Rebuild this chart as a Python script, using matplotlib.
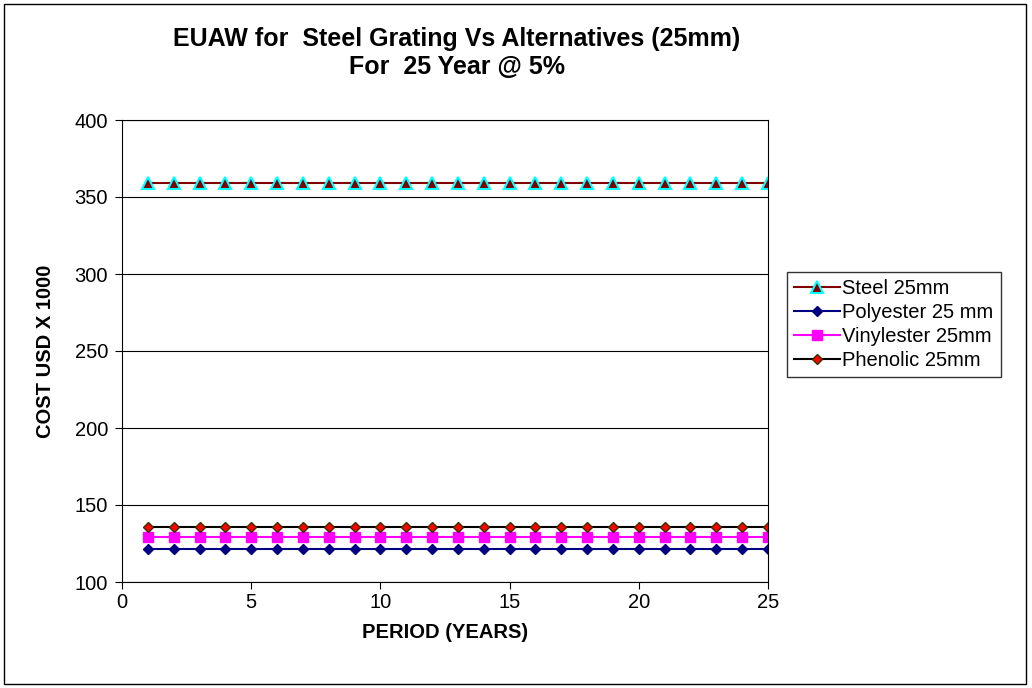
import matplotlib.pyplot as plt
import numpy as np

plt.rcParams['font.family'] = ['Liberation Sans', 'DejaVu Sans']

years = np.arange(1, 26)
steel = [359] * 25
polyester = [121.3] * 25
vinylester = [129] * 25
phenolic = [136] * 25

fig = plt.figure(figsize=(10.32, 6.88), dpi=100)
ax = fig.add_axes([122 / 1032, 1 - 582 / 688, 646 / 1032, 462 / 688])

# outer chart border
fig.patches.append(plt.Rectangle((4 / 1032, 4 / 688), 1022 / 1032, 680 / 688,
                                 transform=fig.transFigure, fill=False,
                                 edgecolor='black', linewidth=1))

ax.plot(years, steel, color='#800000', linewidth=1.5, marker='^', markersize=9,
        markerfacecolor='#800000', markeredgecolor='#00FFFF', markeredgewidth=1.5,
        label='Steel 25mm')
ax.plot(years, polyester, color='#000080', linewidth=1.5, marker='D', markersize=5.5,
        markerfacecolor='#000080', markeredgecolor='#000080', label='Polyester 25 mm')
ax.plot(years, vinylester, color='#FF00FF', linewidth=1.5, marker='s', markersize=6.5,
        markerfacecolor='#FF00FF', markeredgecolor='#FF00FF', label='Vinylester 25mm')
ax.plot(years, phenolic, color='black', linewidth=1.5, marker='D', markersize=5.5,
        markerfacecolor='#FF0000', markeredgecolor='#333300', label='Phenolic 25mm')

ax.set_xlim(0, 25)
ax.set_ylim(100, 400)
ax.set_xticks(range(0, 26, 5))
ax.set_yticks(range(100, 401, 50))
ax.yaxis.grid(True, color='black', linewidth=0.8)
ax.set_axisbelow(True)
ax.tick_params(labelsize=14.5, direction='out', length=5, pad=5)
ax.tick_params(axis='x', pad=3)
for s in ax.spines.values():
    s.set_color('black')

ax.set_xlabel('PERIOD (YEARS)', fontsize=14.5, fontweight='bold', labelpad=8)
ax.set_ylabel('COST USD X 1000', fontsize=14.5, fontweight='bold', labelpad=14)
fig.text(457 / 1032, 1 - 53 / 688, 'EUAW for  Steel Grating Vs Alternatives (25mm)\nFor  25 Year @ 5%',
         ha='center', va='center', fontsize=18, fontweight='bold', linespacing=1.25)

leg = fig.legend(loc='upper left', bbox_to_anchor=(787 / 1032, 1 - 272 / 688),
                 fontsize=14.5, frameon=True, fancybox=False, edgecolor='black',
                 handlelength=2.3, borderpad=0.35, labelspacing=0.25, handletextpad=0.1,
                 borderaxespad=0)
leg.get_frame().set_linewidth(1)

fig.savefig('out.png', dpi=100)
